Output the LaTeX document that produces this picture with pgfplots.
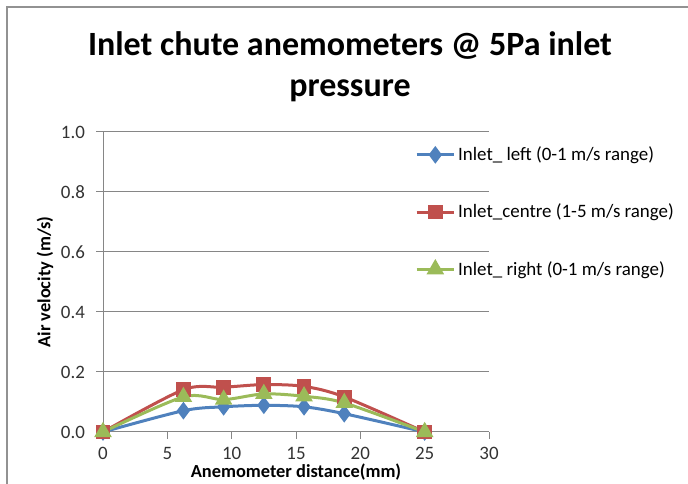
\documentclass[border=0pt]{standalone}
\usepackage{pgfplots}
\pgfplotsset{compat=1.18}
\usepackage{fontspec}
\setmainfont{Carlito}
\definecolor{cblue}{HTML}{4F81BD}
\definecolor{cred}{HTML}{C0504D}
\definecolor{cgreen}{HTML}{9BBB59}
\definecolor{cgrid}{HTML}{868686}
\begin{document}
\begin{tikzpicture}
\path[use as bounding box] (0pt,0pt) rectangle (516pt,363pt);
\draw[cgrid!90, line width=1.5pt] (5.25pt,-2pt) -- (5.25pt,357.75pt) -- (518pt,357.75pt);
\node[font=\fontsize{25.5}{30}\selectfont\bfseries, align=center] at (262.5pt,312.75pt) {Inlet chute anemometers @ 5Pa inlet\\[1pt]pressure};
\begin{axis}[
  at={(77.25pt,39pt)}, anchor=south west,
  scale only axis, width=289.5pt, height=225pt,
  xmin=0, xmax=30, ymin=0, ymax=1,
  xtick={0,5,...,30}, ytick={0,0.2,...,1},
  yticklabel style={xshift=-5pt, /pgf/number format/.cd, fixed, fixed zerofill, precision=1},
  /pgf/number format/assume math mode=true,
  axis lines=left, axis line style={-, draw=cgrid, line width=0.75pt},
  tick align=outside, major tick length=5pt,
  tick style={draw=cgrid, line width=0.75pt},
  ymajorgrids, grid style={draw=cgrid, line width=0.75pt},
  ticklabel style={font=\fontsize{14.2}{17}\selectfont, text=black!80},
  xticklabel style={yshift=-3pt},
  xlabel={Anemometer distance(mm)}, ylabel={Air velocity (m/s)},
  label style={font=\fontsize{13.8}{16}\selectfont\bfseries},
  xlabel style={yshift=4pt},
  ylabel style={yshift=-1pt},
  clip=false,
  every axis plot/.append style={line width=2.25pt, smooth, tension=0.5},
  legend style={at={(0.808,0.96)}, anchor=north west, draw=none, fill=none,
    font=\fontsize{14.2}{17}\selectfont, row sep=27pt, inner sep=0pt,
    /tikz/every even column/.append style={column sep=3pt}},
  legend cell align=left,
  legend image code/.code={\draw[mark repeat=2,mark phase=2] plot[sharp plot] coordinates {(-2pt,0pt)(12pt,0pt)(26pt,0pt)};},
]
\addplot[cblue, mark=diamond*, mark size=4.8pt, mark options={solid, fill=cblue}] coordinates {
(0,0) (6.25,0.071) (9.375,0.084) (12.5,0.089) (15.625,0.084) (18.75,0.061) (25,0)};
\addlegendentry{Inlet\_ left (0-1 m/s range)}
\addplot[cred, mark=square*, mark size=4.4pt, mark options={solid, fill=cred}] coordinates {
(0,0) (6.25,0.141) (9.375,0.149) (12.5,0.158) (15.625,0.152) (18.75,0.117) (25,0)};
\addlegendentry{Inlet\_centre (1-5 m/s range)}
\addplot[cgreen, mark=triangle*, mark size=5.4pt, mark options={solid, fill=cgreen}] coordinates {
(0,0) (6.25,0.117) (9.375,0.108) (12.5,0.127) (15.625,0.119) (18.75,0.097) (25,0)};
\addlegendentry{Inlet\_ right (0-1 m/s range)}
\end{axis}
\end{tikzpicture}
\end{document}
